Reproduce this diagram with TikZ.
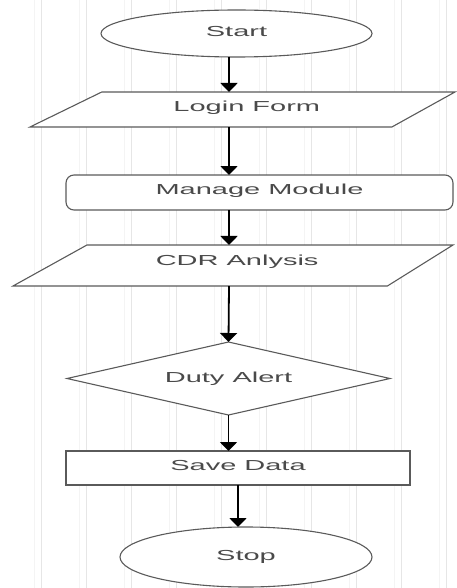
\documentclass[tikz,border=0pt]{standalone}
\usepackage{fontspec}
\setmainfont{Liberation Sans}
\usetikzlibrary{shapes.geometric, arrows.meta, positioning}
\definecolor{edge}{HTML}{5A5A5A}
\definecolor{ink}{HTML}{4A4A4A}
\definecolor{gridline}{HTML}{E6E6E6}
\newcommand{\wide}[1]{\scalebox{2}[1]{#1}}

\begin{document}
\begin{tikzpicture}[x=1pt, y=-1pt, font=\fontsize{14.5}{16}\selectfont, text=ink,
  shapebox/.style={draw=edge, line width=1.1pt, fill=white, inner sep=0pt, outer sep=0pt,
    text height=10pt, text depth=3pt},
  lifted/.style={text depth=#1},
  terminal/.style={shapebox, ellipse},
  io/.style={shapebox, trapezium, trapezium stretches body},
  flow/.style={-{Triangle[width=17pt,length=9pt]}, line width=1.8pt}]
  \useasboundingbox (0,0) rectangle (456,588);
  % Background grid
  \foreach \gx in {41,86,...,446} {
    \draw[gridline, line width=0.8pt] (\gx,0) -- (\gx,588);
    \draw[gridline!45, line width=0.6pt] (\gx-7,0) -- (\gx-7,588);
  }

  % Steps
  \node[terminal, minimum width=271pt, minimum height=47pt] (start) at (236.5,33.5) {\wide{Start}};
  \node[io, lifted=6pt, inner ysep=9.5pt, trapezium left angle=26, trapezium right angle=151, minimum width=425pt,
        anchor=bottom left corner] (login) at (30,127) {\wide{Login Form}};
  \node[shapebox, lifted=6pt, rectangle, rounded corners=8pt, minimum width=387pt, minimum height=35pt] (manage) at (259.5,192.5) {\wide{Manage Module}};
  \node[io, lifted=10pt, inner ysep=10.5pt, trapezium left angle=29, trapezium right angle=148, minimum width=440pt,
        anchor=bottom left corner] (cdr) at (13,286) {\wide{CDR Anlysis}};
  \node[shapebox, diamond, aspect=4.4, minimum width=323pt, minimum height=73pt] (duty) at (228.5,378.5) {\wide{Duty Alert}};
  \node[shapebox, lifted=6pt, rectangle, minimum width=344pt, minimum height=34pt] (save) at (238,468) {\wide{Save Data}};
  \node[terminal, minimum width=252pt, minimum height=60pt] (stop) at (246,557) {\wide{Stop}};

  % Connectors
  \coordinate (spine) at (229,0);
  \draw[flow] (start.south -| spine) -- (login.north -| spine);
  \draw[flow] (login.south -| spine) -- (manage.north -| spine);
  \draw[flow] (manage.south -| spine) -- (cdr.north -| spine);
  \draw[flow] (cdr.south -| spine) -- (duty.north);
  \draw[flow] (duty.south) -- (save.north -| duty.south);
  \draw[flow] (save.south) -- (stop.north -| save.south);
\end{tikzpicture}
\end{document}
